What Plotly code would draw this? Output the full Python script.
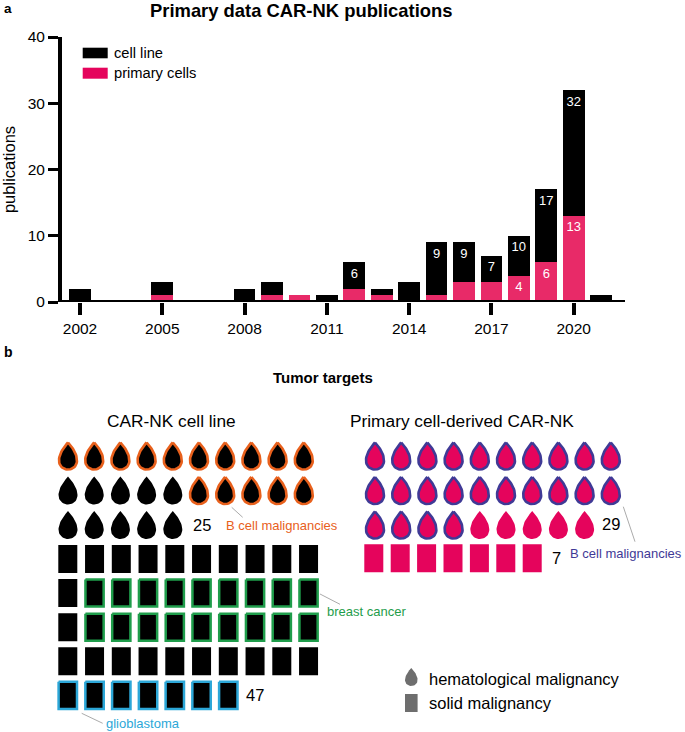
import numpy as np
import plotly.graph_objects as go

# ---------- data ----------
years = list(range(2002, 2022))
primary_cells = [0, 0, 0, 1, 0, 0, 0, 1, 1, 0, 2, 1, 0, 1, 3, 3, 4, 6, 13, 0]
cell_line = [2, 0, 0, 2, 0, 0, 2, 2, 0, 1, 4, 1, 3, 8, 6, 4, 6, 11, 19, 1]
label_years_total = [2012, 2015, 2016, 2017, 2018, 2019, 2020]
label_totals = [6, 9, 9, 7, 10, 17, 32]
label_years_primary = [2018, 2019, 2020]
label_primary = [4, 6, 13]
year_ticks = [2002, 2005, 2008, 2011, 2014, 2017, 2020]
pub_ticks = [0, 10, 20, 30, 40]

line_hematological = 25
line_solid = 47
primary_hematological = 29
primary_solid = 7
line_bcell_idx = list(range(0, 10)) + list(range(15, 20))
line_breast_idx = list(range(11, 20)) + list(range(21, 30))
line_glioblastoma_idx = list(range(40, 47))
primary_bcell_idx = list(range(0, 24))

# ---------- styles ----------
W, H = 685, 732
BLACK = "#000000"
PINK_BAR = "#E82A68"
PINK = "#E5045C"
ORANGE = "#E8601C"
INDIGO = "#3F3A96"
GREEN = "#1F9D4B"
SKY = "#2CA7D8"
GREY = "#6E6E6E"
LEAD = "#ABABAB"
FONT = "Liberation Sans"


def drop(cx, cy, w, h):
    t = np.linspace(0, 2 * np.pi, 61)
    shape = np.sin(t) * np.sin(t / 2) ** 0.95
    xs = cx + (w / 2) * shape / np.abs(shape).max()
    ys = cy - (h / 2) * np.cos(t)
    return list(xs) + [None], list(ys) + [None]


def rect(cx, cy, w, h):
    return ([cx - w / 2, cx + w / 2, cx + w / 2, cx - w / 2, cx - w / 2, None],
            [cy - h / 2, cy - h / 2, cy + h / 2, cy + h / 2, cy - h / 2, None])


def grid_trace(indices, maker, x0, dx, y0, dy, w, h, fill, line=None, lw=0):
    xs, ys = [], []
    for i in indices:
        px, py = maker(x0 + dx * (i % 10), y0 + dy * (i // 10), w, h)
        xs += px
        ys += py
    return go.Scatter(x=xs, y=ys, mode="lines", fill="toself", fillcolor=fill,
                      line=dict(color=line or fill, width=lw), hoverinfo="skip",
                      showlegend=False, xaxis="x2", yaxis="y2", connectgaps=False)


fig = go.Figure()

# ---------- panel a ----------
fig.add_bar(x=years, y=primary_cells, name="primary cells", marker_color=PINK_BAR, marker_line_width=0, width=0.79)
fig.add_bar(x=years, y=cell_line, name="cell line", marker_color=BLACK, marker_line_width=0, width=0.79)
fig.add_scatter(x=label_years_total, y=[v - 1.85 for v in label_totals], mode="text",
                text=[str(v) for v in label_totals], textfont=dict(color="white", size=13, family=FONT),
                hoverinfo="skip", showlegend=False)
fig.add_scatter(x=label_years_primary, y=[v - 1.85 for v in label_primary], mode="text",
                text=[str(v) for v in label_primary], textfont=dict(color="white", size=13, family=FONT),
                hoverinfo="skip", showlegend=False)

# ---------- panel b ----------
LDX, LSX = 26.2, 26.75
fig.add_trace(grid_trace([i for i in range(line_hematological) if i not in line_bcell_idx],
                         drop, 68, LDX, 456, 34.5, 19, 28, BLACK))
fig.add_trace(grid_trace(line_bcell_idx, drop, 68, LDX, 456, 34.5, 18, 27, BLACK, ORANGE, 2.6))
plain_solid = [i for i in range(line_solid)
               if i not in line_breast_idx and i not in line_glioblastoma_idx]
fig.add_trace(grid_trace(plain_solid, rect, 67.8, LSX, 559, 34.1, 19, 28, BLACK))
fig.add_trace(grid_trace(line_breast_idx, rect, 67.8, LSX, 559, 34.1, 18.2, 27, BLACK, GREEN, 2.5))
fig.add_trace(grid_trace(line_glioblastoma_idx, rect, 67.8, LSX, 559, 34.1, 18.4, 27.2, BLACK, SKY, 2.5))

fig.add_trace(grid_trace([i for i in range(primary_hematological) if i not in primary_bcell_idx],
                         drop, 375, LDX, 456, 34.5, 19, 28, PINK))
fig.add_trace(grid_trace(primary_bcell_idx, drop, 375, LDX, 456, 34.5, 18, 27, PINK, INDIGO, 2.6))
fig.add_trace(grid_trace(range(primary_solid), rect, 373.8, 26.4, 558.3, 0, 19, 28, PINK))

# key glyphs
for mk, cy in ((drop, 677), (rect, 703)):
    xs, ys = mk(411.3, cy, 12.6, 18)
    fig.add_scatter(x=xs, y=ys, mode="lines", fill="toself", fillcolor=GREY, line=dict(color=GREY, width=0),
                    hoverinfo="skip", showlegend=False, xaxis="x2", yaxis="y2")

# ---------- text ----------
texts = [
    ("a", 3, 8, 13.5, BLACK, True, "left"),
    ("b", 3, 352, 14, BLACK, True, "left"),
    ("Primary data CAR-NK publications", 300.5, 10, 18.4, BLACK, True, "center"),
    ("Tumor targets", 322.5, 377, 15, BLACK, True, "center"),
    ("CAR-NK cell line", 171.5, 421, 17.3, BLACK, False, "center"),
    ("Primary cell-derived CAR-NK", 462, 421, 17.3, BLACK, False, "center"),
    ("cell line", 113, 53, 14.7, BLACK, False, "left"),
    ("primary cells", 113, 73, 14.7, BLACK, False, "left"),
    ("25", 192, 525, 16.5, BLACK, False, "left"),
    ("47", 245, 695, 16.5, BLACK, False, "left"),
    ("29", 601, 524, 16.5, BLACK, False, "left"),
    ("7", 551, 558, 16.5, BLACK, False, "left"),
    ("B cell malignancies", 225, 525, 13, ORANGE, False, "left"),
    ("B cell malignancies", 569, 553, 13, INDIGO, False, "left"),
    ("breast cancer", 326, 611, 13, GREEN, False, "left"),
    ("glioblastoma", 105, 723, 13, SKY, False, "left"),
    ("hematological malignancy", 428, 679, 16.5, BLACK, False, "left"),
    ("solid malignancy", 428, 703, 16.5, BLACK, False, "left"),
]
annotations = [
    dict(text=f"<b>{t}</b>" if b else t, x=x, y=y, xref="x2", yref="y2", showarrow=False,
         xanchor=anc, yanchor="middle", borderpad=0, font=dict(size=s, color=c, family=FONT))
    for t, x, y, s, c, b, anc in texts
]

# ---------- decorations ----------
shapes = [
    dict(type="line", xref="x domain", yref="y", x0=-0.007, x1=1, y0=0, y1=0,
         line=dict(color=BLACK, width=4), layer="above"),
    dict(type="rect", xref="x2", yref="y2", x0=82.7, x1=107.7, y0=47.7, y1=58.3,
         fillcolor=BLACK, line_width=0),
    dict(type="rect", xref="x2", yref="y2", x0=82.7, x1=107.7, y0=67.7, y1=78.7,
         fillcolor=PINK, line_width=0),
]
for x0, y0, x1, y1 in [(231.7, 507.3, 242.7, 517.3), (320, 594, 340, 604.3),
                       (81.7, 713.3, 102.7, 723.3), (623.3, 506.7, 635, 541.7)]:
    shapes.append(dict(type="line", xref="x2", yref="y2", x0=x0, y0=y0, x1=x1, y1=y1,
                       line=dict(color=LEAD, width=1)))

fig.update_layout(
    width=W, height=H, margin=dict(l=0, r=0, t=0, b=0, autoexpand=False), barmode="stack",
    paper_bgcolor="white", plot_bgcolor="rgba(0,0,0,0)", showlegend=False,
    font=dict(family=FONT, color=BLACK),
    annotations=annotations, shapes=shapes,
    xaxis=dict(domain=[62 / W, 625 / W], range=[2001.344, 2021.87], tickmode="array",
               tickvals=year_ticks, ticks="outside", ticklen=12, tickwidth=4, tickcolor=BLACK,
               showline=False, showgrid=False, zeroline=False, tickfont=dict(size=15.5), anchor="y"),
    yaxis=dict(domain=[1 - 302 / H, 1 - 37 / H], range=[0, 40], tickmode="array",
               tickvals=pub_ticks, ticks="outside", ticklen=10, tickwidth=3, tickcolor=BLACK,
               showline=True, linewidth=4, linecolor=BLACK, showgrid=False, zeroline=False,
               tickfont=dict(size=15.5), anchor="x",
               title=dict(text="publications", font=dict(size=16.5), standoff=9)),
    xaxis2=dict(domain=[0, 1], range=[0, W], visible=False, anchor="y2"),
    yaxis2=dict(domain=[0, 1], range=[H, 0], visible=False, anchor="x2"),
)

fig.write_html("out.html", config=dict(displayModeBar=False),
               post_script="document.body.style.margin='0';document.body.style.overflow='hidden';")
